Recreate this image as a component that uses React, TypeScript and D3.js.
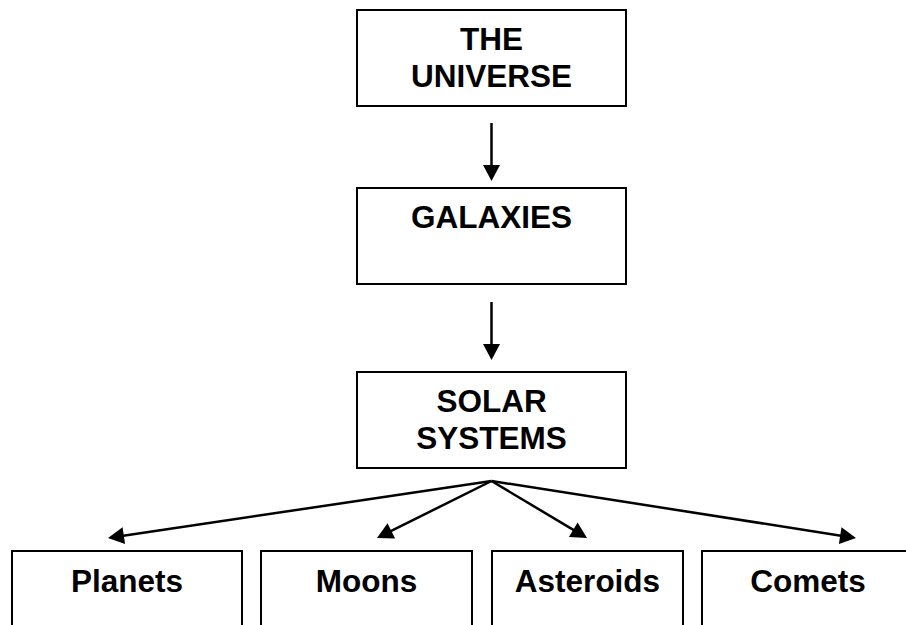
import React from "react";
import * as d3 from "d3";

// Node labels per level
const level0 = ["THE", "UNIVERSE"];
const level1 = ["GALAXIES"];
const level2 = ["SOLAR", "SYSTEMS"];
const leaves = ["Planets", "Moons", "Asteroids", "Comets"];

// layout (pixels)
const W = 906;
const H = 625;
const levelTops = [10, 188, 372, 551];
const centerBoxX: [number, number] = [357, 626];
const boxH = 96;
const leafLefts = [12, 261, 492, 702];
const leafRights = [242, 472, 683, 914];
const leafTips = [108, 377, 587, 856];
const FS = 31.5;

function arrowHead(x1: number, y1: number, x2: number, y2: number, len = 16, half = 8.5) {
  const a = Math.atan2(y2 - y1, x2 - x1);
  const bx = x2 - len * Math.cos(a);
  const by = y2 - len * Math.sin(a);
  const px = -Math.sin(a) * half;
  const py = Math.cos(a) * half;
  return `M${x2},${y2}L${bx + px},${by + py}L${bx - px},${by - py}Z`;
}

export default function App() {
  const yLevel = d3.scaleOrdinal<number, number>().domain([0, 1, 2, 3]).range(levelTops);
  const cx = (centerBoxX[0] + centerBoxX[1]) / 2;
  const line = d3.line();
  const centerLabels = [level0, level1, level2];
  const apex: [number, number] = [cx, yLevel(2) + boxH + 13];

  const vArrows = [
    [yLevel(0) + boxH + 17, yLevel(1) - 7],
    [yLevel(1) + boxH + 18, yLevel(2) - 12],
  ];

  return (
    <svg width={W} height={H} style={{ position: "absolute", left: 0, top: 0, background: "#fff" }}>
      <g fontFamily="'Liberation Sans', Arial, sans-serif" fontWeight="bold" fontSize={FS} textAnchor="middle" fill="#000">
        {centerLabels.map((lines, i) => (
          <g key={i}>
            <rect x={centerBoxX[0]} y={yLevel(i)} width={centerBoxX[1] - centerBoxX[0]} height={boxH} fill="none" stroke="#000" strokeWidth={2} />
            {lines.map((t, j) => (
              <text key={j} x={cx} y={yLevel(i) + 40 + j * 37}>{t}</text>
            ))}
          </g>
        ))}
        {vArrows.map(([y1, y2], i) => (
          <g key={i}>
            <path d={line([[cx, y1], [cx, y2 - 12]]) as string} stroke="#000" strokeWidth={2.5} fill="none" />
            <path d={arrowHead(cx, y1, cx, y2)} fill="#000" />
          </g>
        ))}
        {leaves.map((t, i) => {
          const tip: [number, number] = [leafTips[i], yLevel(3) - 13];
          const a = Math.atan2(tip[1] - apex[1], tip[0] - apex[0]);
          const end: [number, number] = [tip[0] - 12 * Math.cos(a), tip[1] - 12 * Math.sin(a)];
          return (
            <g key={t}>
              <path d={line([apex, end]) as string} stroke="#000" strokeWidth={2.5} fill="none" />
              <path d={arrowHead(apex[0], apex[1], tip[0], tip[1])} fill="#000" />
              <path
                d={line([[leafLefts[i], H + 5], [leafLefts[i], yLevel(3)], [leafRights[i], yLevel(3)], [leafRights[i], H + 5]]) as string}
                fill="none" stroke="#000" strokeWidth={2}
              />
              <text x={(leafLefts[i] + leafRights[i]) / 2} y={yLevel(3) + 41}>{t}</text>
            </g>
          );
        })}
      </g>
    </svg>
  );
}
